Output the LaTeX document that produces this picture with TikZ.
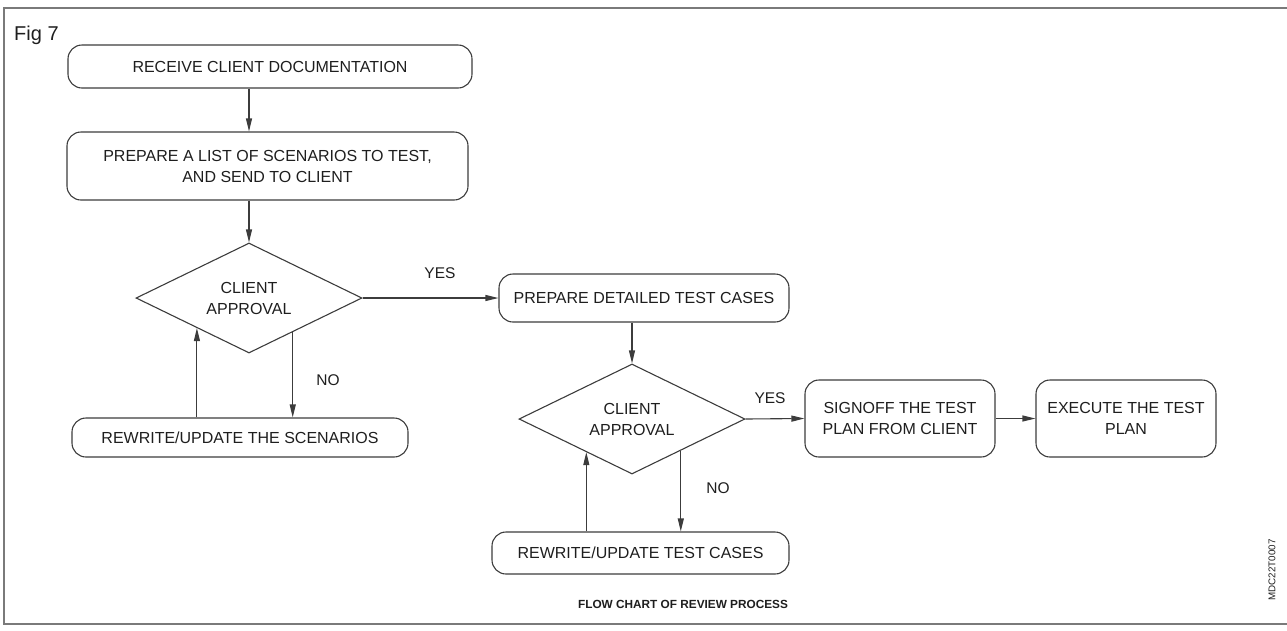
\documentclass[tikz,border=0pt]{standalone}
\usepackage{fontspec}
\setmainfont{Liberation Sans}
\usetikzlibrary{shapes.geometric,arrows.meta}
\definecolor{ink}{HTML}{1E1E1E}
\definecolor{linegray}{HTML}{3C3C3C}
\definecolor{framegray}{HTML}{7A7A7A}
\begin{document}
\begin{tikzpicture}[x=1pt,y=-1pt,
  stroke/.style={draw=linegray,line width=1.1pt},
  box/.style={stroke, rounded corners=14pt, inner sep=0pt, align=center,
    font=\fontsize{16}{21}\selectfont, text=ink},
  decision/.style={stroke, diamond, shape aspect=2, inner sep=0pt,
    minimum width=226pt, minimum height=110pt, align=center,
    font=\fontsize{16}{21}\selectfont, text=ink},
  flow/.style={stroke, -{Triangle[length=13pt,width=6pt]}},
  lbl/.style={font=\fontsize{15.5}{18}\selectfont, text=ink, inner sep=0pt}]
\useasboundingbox (0,0) rectangle (1287,630);

% frame
\draw[framegray, line width=2pt] (1295,8) -- (4,8) -- (4,624) -- (1295,624);
\node[anchor=base west, font=\fontsize{20}{24}\selectfont, text=ink, inner sep=0pt] (fig) at (14,40) {Fig 7};

% first review loop
\node[box, minimum width=404pt, minimum height=43pt] (b1) at (270,66.5) {RECEIVE CLIENT DOCUMENTATION};
\node[box, minimum width=401pt, minimum height=68pt] (b2) at (267.5,166) {PREPARE A LIST OF SCENARIOS TO TEST,\\AND SEND TO CLIENT};
\node[decision] (d1) at (249,298) {CLIENT\\APPROVAL};
\node[box, minimum width=336pt, minimum height=39pt] (r1) at (240,437.5) {REWRITE/UPDATE THE SCENARIOS};

% second review loop
\node[box, minimum width=290pt, minimum height=48pt] (b3) at (644,298) {PREPARE DETAILED TEST CASES};
\node[decision] (d2) at (632,419) {CLIENT\\APPROVAL};
\node[box, minimum width=297pt, minimum height=42pt] (r2) at (640.5,553) {REWRITE/UPDATE TEST CASES};
\node[box, minimum width=190pt, minimum height=77pt] (b4) at (900,418.5) {SIGNOFF THE TEST\\PLAN FROM CLIENT};
\node[box, minimum width=180pt, minimum height=77pt] (b5) at (1126,418.5) {EXECUTE THE TEST\\PLAN};

% connectors
\draw[flow] (b1.south -| d1.north) -- (b2.north -| d1.north);
\draw[flow] (b2.south -| d1.north) -- (d1.north);
\draw[flow] (d1.east) -- (b3.west);
\draw[flow] (d1.-38.4) -- (d1.-38.4 |- r1.north);
\draw[flow] (r1.north -| d1.210.6) -- (d1.210.6);
\draw[flow] (b3.south -| d2.north) -- (d2.north);
\draw[flow] (d2.east) -- (b4.west);
\draw[flow] (d2.-33.4) -- (d2.-33.4 |- r2.north);
\draw[flow] (r2.north -| d2.216.3) -- (d2.216.3);
\draw[flow] (b4.east) -- (b5.west);

% branch labels
\node[lbl] (yes1) at (440,273) {YES};
\node[lbl] (no1) at (328,380) {NO};
\node[lbl] (yes2) at (770,398) {YES};
\node[lbl] (no2) at (718,488) {NO};

% caption and drawing number
\node[font=\bfseries\fontsize{11.8}{14}\selectfont, text=ink, inner sep=0pt] (cap) at (683,604) {FLOW CHART OF REVIEW PROCESS};
\node[rotate=90, font=\fontsize{9.8}{11}\selectfont, text=ink, inner sep=0pt] (id) at (1272,570) {MDC22T0007};
\end{tikzpicture}
\end{document}
